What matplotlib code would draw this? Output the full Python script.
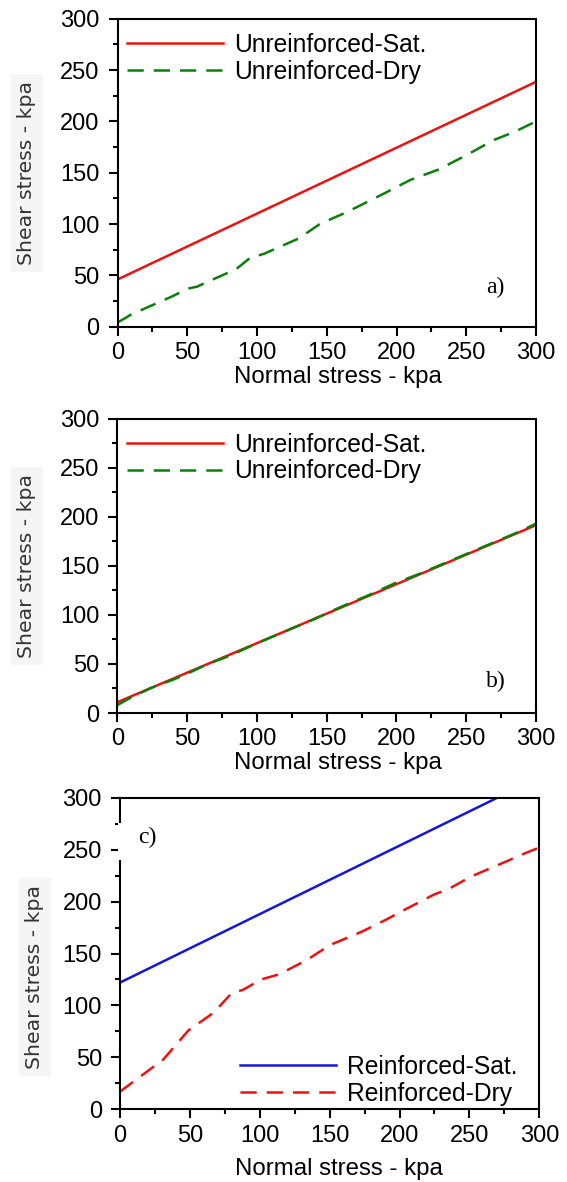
import matplotlib
matplotlib.use("Agg")
import matplotlib.pyplot as plt
from matplotlib.patches import Rectangle
from matplotlib.ticker import MultipleLocator

# ---------------- data ----------------
# Panel a
a_sat_x = [0, 300]
a_sat_y = [46, 238.5]
a_dry_x = [0, 10, 25, 40, 50, 57, 70, 85, 95, 105, 120, 130, 145, 165, 190, 210, 230, 250, 270, 285, 300]
a_dry_y = [4, 12, 21, 30, 37, 39, 47, 56, 67, 71, 80, 86, 100, 112, 129, 143, 153, 167, 182, 190, 200]

# Panel b
b_sat_x = [0, 300]
b_sat_y = [11, 191.5]
b_dry_x = [0, 10, 25, 40, 50, 65, 80, 100, 120, 140, 160, 180, 200, 215, 230, 250, 270, 285, 300]
b_dry_y = [8, 16, 26, 34, 40, 50, 58, 71, 83, 95, 108, 120, 133, 141, 150, 162, 174, 183, 193]

# Panel c
c_sat_x = [0, 270]
c_sat_y = [122, 300]
c_dry_x = [0, 18, 31, 49, 67, 80, 88, 101, 114, 134, 150, 173, 191, 202, 225, 235, 251, 277, 287, 300]
c_dry_y = [17, 35, 48, 76, 93, 112, 115, 125, 130, 144, 158, 171, 183, 191, 207, 212, 224, 239, 245, 252]

labels_a = ["Unreinforced-Sat.", "Unreinforced-Dry"]
labels_c = ["Reinforced-Sat.", "Reinforced-Dry"]
panel_tags = ["a)", "b)", "c)"]
x_ticks = [0, 50, 100, 150, 200, 250, 300]
y_ticks = [0, 50, 100, 150, 200, 250, 300]

RED = "#ee1111"
GREEN = "#0a800a"
BLUE = "#1515dd"
SANS = "Liberation Sans"
SERIF = "Liberation Serif"
LW = 1.8

W, H = 567, 1182
fig = plt.figure(figsize=(W / 100, H / 100), dpi=100)


def px_axes(left, top, right, bottom):
    return fig.add_axes([left / W, 1 - bottom / H, (right - left) / W, (bottom - top) / H])


def style(ax, xlab_x, xlab_y):
    ax.set_xlim(0, 300)
    ax.set_ylim(0, 300)
    ax.set_xticks(x_ticks)
    ax.set_yticks(y_ticks)
    ax.xaxis.set_minor_locator(MultipleLocator(25))
    ax.yaxis.set_minor_locator(MultipleLocator(25))
    ax.tick_params(which="major", direction="out", length=6.5, width=1.5)
    ax.tick_params(which="minor", direction="out", length=3.6, width=1.5)
    ax.tick_params(axis="y", which="major", pad=6.5)
    ax.tick_params(axis="x", which="major", pad=4.5)
    for lab in ax.get_xticklabels() + ax.get_yticklabels():
        lab.set_fontfamily(SANS)
        lab.set_fontsize(17)
    for sp in ax.spines.values():
        sp.set_linewidth(1.5)
    ax.set_xlabel("Normal stress - kpa", fontfamily=SANS, fontsize=17.3)
    ax.xaxis.set_label_coords(xlab_x, xlab_y)


def add_legend(ax, anchor):
    ax.legend(loc="upper left", bbox_to_anchor=anchor, frameon=False,
              borderaxespad=0, borderpad=0, handlelength=3.9, handletextpad=0.45,
              labelspacing=0.12, prop={"family": SANS, "size": 17.7})


dash = (0, (6.5, 4.0))

# ---- panel a ----
ax1 = px_axes(117.5, 18.7, 536, 326.7)
ax1.plot(a_sat_x, a_sat_y, color=RED, lw=LW, label=labels_a[0])
ax1.plot(a_dry_x, a_dry_y, color=GREEN, lw=LW, linestyle=dash, label=labels_a[1])
style(ax1, 0.527, -0.126)
add_legend(ax1, (0.0227, 0.955))

# ---- panel b ----
ax2 = px_axes(117.3, 418.7, 536, 713)
ax2.plot(b_sat_x, b_sat_y, color=RED, lw=LW, label=labels_a[0])
ax2.plot(b_dry_x, b_dry_y, color=GREEN, lw=LW, linestyle=dash, label=labels_a[1])
style(ax2, 0.527, -0.134)
add_legend(ax2, (0.0227, 0.953))

# ---- panel c ----
ax3 = px_axes(120, 797.7, 539.3, 1109.3)
ax3.plot(c_sat_x, c_sat_y, color=BLUE, lw=LW, label=labels_c[0])
ax3.plot(c_dry_x, c_dry_y, color=RED, lw=LW, linestyle=dash, label=labels_c[1])
style(ax3, 0.521, -0.155)
add_legend(ax3, (0.286, 0.175))

# panel tags placed at pixel positions via figure coords
fig.text(495 / W, 1 - 287 / H, panel_tags[0], ha="center", va="center",
         fontfamily=SERIF, fontsize=17)
fig.text(496 / W, 1 - 681 / H, panel_tags[1], ha="center", va="center",
         fontfamily=SERIF, fontsize=17)
# white box covering part of left spine in panel c, with tag on top
fig.patches.append(Rectangle((117.5 / W, 1 - 860 / H), 50 / W, 37 / H,
                             transform=fig.transFigure, facecolor="white",
                             edgecolor="none", zorder=5))
fig.text(147 / W, 1 - 837 / H, panel_tags[2], ha="center", va="center",
         fontfamily=SERIF, fontsize=17, zorder=6)

# y labels (greyish, on a faint background)
for cx, cy in [(27, 173), (27, 566), (35, 977)]:
    fig.text(cx / W, 1 - cy / H, "Shear stress - kpa", rotation=90, ha="center",
             va="center", fontfamily="DejaVu Sans", fontsize=14.7, color="#333333",
             bbox=dict(facecolor="#f5f5f5", edgecolor="none", pad=5))

fig.savefig("out.png", dpi=100)
